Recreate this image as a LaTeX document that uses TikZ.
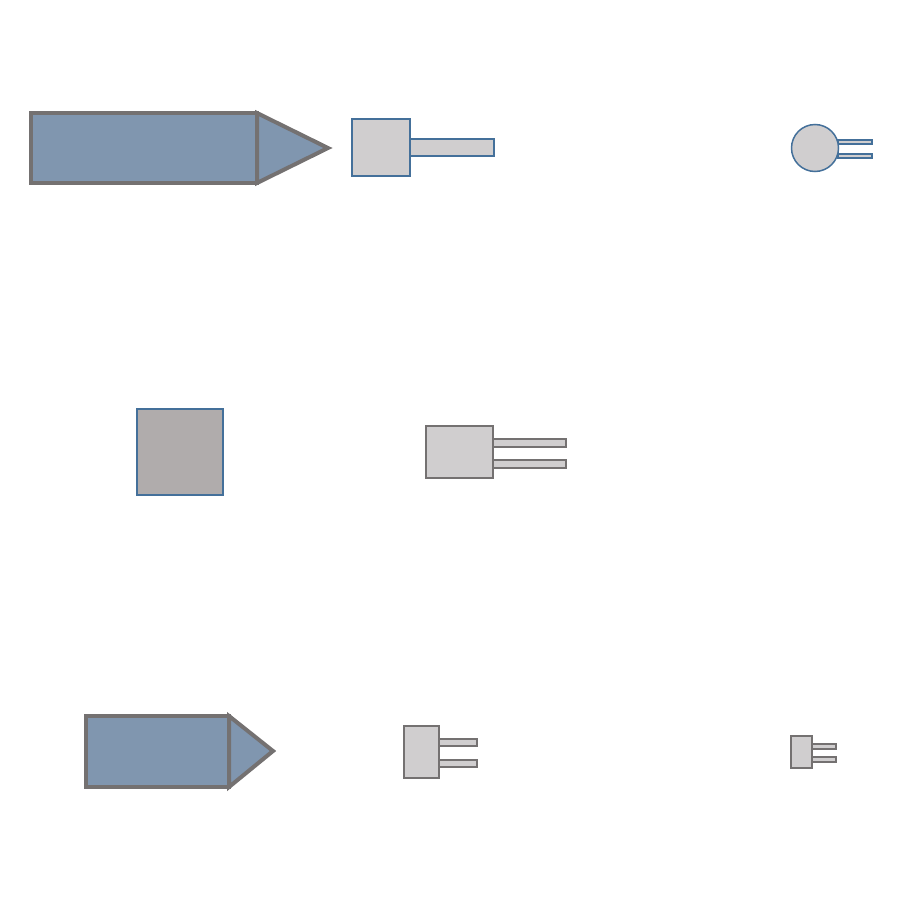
\documentclass[tikz,border=0pt]{standalone}
\usepackage{tikz}
\definecolor{bluefill}{HTML}{8096AF}
\definecolor{graystroke}{HTML}{747171}
\definecolor{bluestroke}{HTML}{44709A}
\definecolor{lightfill}{HTML}{D0CECF}
\definecolor{midfill}{HTML}{B0ACAC}
\tikzset{
  pencil/.style={fill=bluefill, draw=graystroke, line width=4bp, line join=miter},
  bluepart/.style={fill=lightfill, draw=bluestroke, line width=2.5bp},
  thinblue/.style={fill=lightfill, draw=bluestroke, line width=1.5bp},
  graypart/.style={fill=lightfill, draw=graystroke, line width=2.2bp},
}
\begin{document}
\begin{tikzpicture}[x=1bp,y=-1bp]
\useasboundingbox (0,0) rectangle (900,900);
% shape 1
\draw[pencil] (31,113) rectangle (257,183);
\draw[pencil] (257,113) -- (328,148) -- (257,183) -- cycle;
% shape 2
\draw[bluepart] (410,139) rectangle (494,156);
\draw[bluepart] (352,119) rectangle (410,176);
% shape 3
\draw[thinblue] (838,140) rectangle (872,144);
\draw[thinblue] (838,154) rectangle (872,158);
\draw[thinblue] (815,148) circle (23.5);
% shape 4
\draw[bluepart, fill=midfill] (137,409) rectangle (223,495);
% shape 5
\draw[graypart] (493,439) rectangle (566,447);
\draw[graypart] (493,460) rectangle (566,468);
\draw[graypart] (426,426) rectangle (493,478);
% shape 6
\draw[pencil] (86,716) rectangle (229,787);
\draw[pencil] (229,716) -- (273,751) -- (229,787) -- cycle;
% shape 7
\draw[graypart] (439,739) rectangle (477,746);
\draw[graypart] (439,760) rectangle (477,767);
\draw[graypart] (404,726) rectangle (439,778);
% shape 8
\draw[graypart] (812,744) rectangle (836,749);
\draw[graypart] (812,757) rectangle (836,762);
\draw[graypart] (791,736) rectangle (812,768);
\end{tikzpicture}
\end{document}
